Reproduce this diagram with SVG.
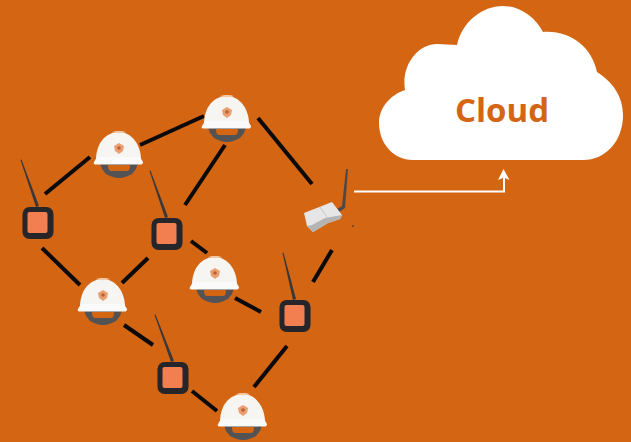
<svg xmlns="http://www.w3.org/2000/svg" width="631" height="442" viewBox="0 0 631 442">
<style>
.link{stroke:#0a0a0a;stroke-width:4;fill:none;stroke-linecap:butt}
.ant{fill:#38383a}
.flow{stroke:#fff;stroke-width:2;fill:none}
.label{font-family:"Open Sans","Liberation Sans",sans-serif;font-weight:700;font-size:33px;fill:#d46513}
</style>
<defs>
<filter id="soft" x="-20%" y="-20%" width="140%" height="140%"><feGaussianBlur stdDeviation="0.6"/></filter>
<g id="hat" filter="url(#soft)">
<path d="M-18 5L20 5L18 11L14 16C10 18 6 20 1 20C-4 20 -8 18 -12 16L-16 11ZM-10 7C-10 11 -9 13 -6 13L9 13C11 13 12 11 12 7Z" fill="#525256" fill-rule="evenodd"/>
<path d="M-22 2C-22 -14 -13 -26 1 -26C13 -26 23 -14 23 2Z" fill="#f6f5f2"/>
<path d="M-6 -26C-3 -27.500 5 -27.500 8 -26C4 -24.500 -3 -24.500 -6 -26Z" fill="#f3c9a3"/>
<path d="M-24 4L-21 -1L22 -1L25 4C25 6 24 6.500 22 6.500L-21 6.500C-24 6.500 -25 6 -24 4Z" fill="#fbfafa"/>
<path d="M-4 -12L1 -15L6 -12L5 -7L1 -4L-3 -7Z" fill="#ea9f70"/>
<circle cx="1" cy="-10" r="1.800" fill="#b96038"/>
</g>
<g id="sensor" filter="url(#soft)">
<rect x="-15.500" y="-16" width="31" height="32" rx="7" fill="#25272b"/>
<rect x="-10.500" y="-11" width="20" height="21" rx="2" fill="#f27f50"/>
</g>
</defs>
<rect width="631" height="442" fill="#d46513"/>
<g id="connectors">
<path class="link" d="M45 194L90 157"/>
<path class="link" d="M140 145L204 116"/>
<path class="link" d="M225 145L185 205"/>
<path class="link" d="M258 118L312 184"/>
<path class="link" d="M42 248L80 285"/>
<path class="link" d="M122 283L148 258"/>
<path class="link" d="M191 241L207 253"/>
<path class="link" d="M235 298L261 312"/>
<path class="link" d="M124 325L153 345"/>
<path class="link" d="M332 250L313 282"/>
<path class="link" d="M287 346L254 387"/>
<path class="link" d="M192 391L217 411"/>
<path class="flow" d="M354 191.500H504V176"/>
<path d="M503.500 169L509.500 180L504 177.500L498 180Z" fill="#fff"/>
</g>
<g id="cloud">
<path d="M413 160C393 160 379 143 379 123C379 108 390 95 405 90C401 65 418 44 437 44C444 44 450 45 457 45C462 22 482 6 503 6C520 6 535 17 543 32C570 30 592 47 597 72C613 82 623 97 623 115C623 141 606 160 583 160Z" fill="#fff"/>
<text class="label" x="502" y="122" text-anchor="middle">Cloud</text>
</g>
<g id="hat1"><use href="#hat" x="118" y="158"/></g>
<g id="hat2"><use href="#hat" x="226" y="122"/></g>
<g id="hat3"><use href="#hat" x="102" y="305"/></g>
<g id="hat4"><use href="#hat" x="214" y="283"/></g>
<g id="hat5"><use href="#hat" x="242" y="420"/></g>
<g id="sensor1"><path class="ant" d="M20.500 160L21.500 159.500L39 206L36 207Z"/><use href="#sensor" x="38" y="223"/></g>
<g id="sensor2"><path class="ant" d="M149.500 171L150.500 170.500L168 217L165 218Z"/><use href="#sensor" x="167" y="234"/></g>
<g id="sensor3"><path class="ant" d="M282.500 253L283.500 252.500L296 299L293 300Z"/><use href="#sensor" x="295" y="316"/></g>
<g id="sensor4"><path class="ant" d="M154.500 315L155.500 314.500L174 361L171 362Z"/><use href="#sensor" x="173" y="378"/></g>
<g id="gateway" filter="url(#soft)">
<path d="M346 169L348 169L345 208L339 212L337 209L342 206Z" fill="#4a4a4c"/>
<path d="M304 213L332 202L342 215L340 219L328 223L313 232L307 226Z" fill="#e6e6e6"/>
<path d="M307 226L313 232L328 223L340 219L342 215L325 218L312 225Z" fill="#b4b4b4"/>
<path d="M320 207L327 217" stroke="#c4c4c4" fill="none"/>
<circle cx="353" cy="226" r="0.800" fill="#222"/>
</g>
</svg>
